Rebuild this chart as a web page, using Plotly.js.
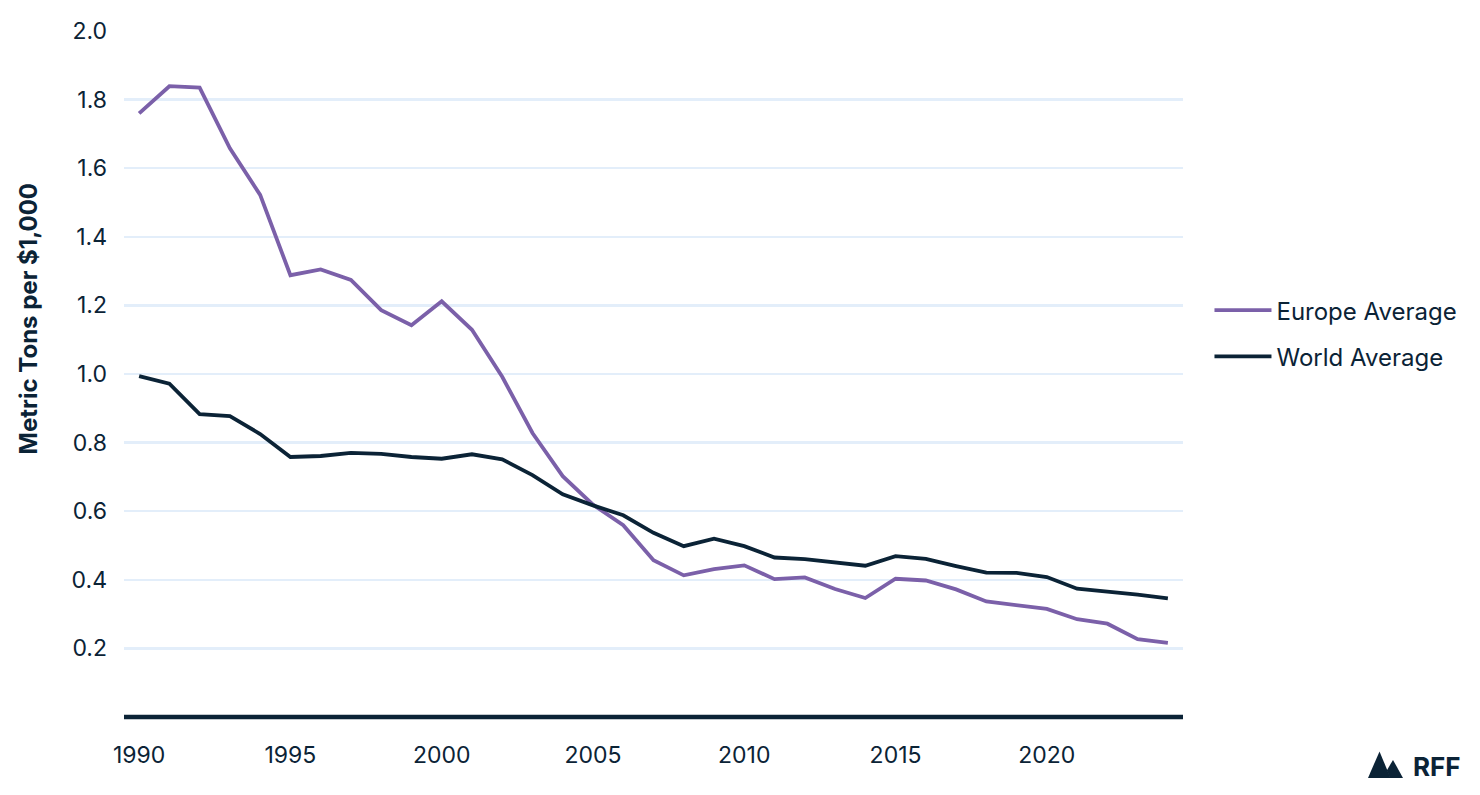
<!DOCTYPE html>
<html>
<head>
<meta charset="utf-8">
<script src="https://cdn.plot.ly/plotly-3.0.1.min.js"></script>
<style>
  html, body { margin: 0; padding: 0; background: #ffffff; }
  #chart { width: 1480px; height: 795px; }
</style>
</head>
<body>
<div id="chart"></div>
<script>
const years = [1990,1991,1992,1993,1994,1995,1996,1997,1998,1999,2000,2001,2002,2003,2004,2005,2006,2007,2008,2009,2010,2011,2012,2013,2014,2015,2016,2017,2018,2019,2020,2021,2022,2023,2024];
const europeAverage = [1.760,1.839,1.835,1.658,1.522,1.288,1.305,1.274,1.186,1.142,1.212,1.129,0.992,0.828,0.702,0.619,0.559,0.457,0.413,0.431,0.442,0.402,0.407,0.373,0.347,0.403,0.398,0.372,0.337,0.325,0.315,0.285,0.272,0.227,0.216];
const worldAverage = [0.994,0.972,0.883,0.877,0.825,0.758,0.761,0.770,0.767,0.758,0.753,0.766,0.751,0.705,0.649,0.617,0.588,0.537,0.498,0.520,0.498,0.465,0.460,0.451,0.441,0.469,0.461,0.440,0.421,0.420,0.408,0.374,0.366,0.357,0.346];
const seriesNames = ["Europe Average", "World Average"];
const xTickVals = [1990,1995,2000,2005,2010,2015,2020];
const xTickText = ["1990","1995","2000","2005","2010","2015","2020"];
const yTickVals = [0.2,0.4,0.6,0.8,1.0,1.2,1.4,1.6,1.8,2.0];
const yTickText = ["0.2","0.4","0.6","0.8","1.0","1.2","1.4","1.6","1.8","2.0"];
const yAxisTitle = "Metric Tons per $1,000";
const logoText = "RFF";

const NAVY = "#0b2336";
const PURPLE = "#7b60a9";
const GRID = "#e3eefa";
const FONT = "Inter, 'Noto Sans', sans-serif";

const traces = [
  {
    x: years, y: europeAverage, name: seriesNames[0], type: "scatter", mode: "lines",
    line: { color: PURPLE, width: 3.8 }, legendgroup: "eu", hoverinfo: "x+y"
  },
  {
    x: years, y: worldAverage, name: seriesNames[1], type: "scatter", mode: "lines",
    line: { color: NAVY, width: 3.8 }, legendgroup: "world", hoverinfo: "x+y"
  }
];

const PX = (px) => (px - 124) / 1059;
const PY = (py) => (716.6 - py) / 686;

const layout = {
  width: 1480, height: 795,
  margin: { l: 124, r: 297, t: 31, b: 78, pad: 0 },
  paper_bgcolor: "#ffffff", plot_bgcolor: "#ffffff",
  font: { family: FONT, color: NAVY, size: 23 },
  showlegend: true,
  legend: {
    x: 1.025, xanchor: "left", y: 0.559, yanchor: "middle",
    font: { family: FONT, size: 24, color: NAVY },
    traceorder: "grouped", tracegroupgap: 12, itemwidth: 57,
    bgcolor: "rgba(0,0,0,0)", borderwidth: 0
  },
  xaxis: {
    range: [1989.5, 2024.5], showgrid: false, zeroline: false, showline: false,
    tickmode: "array", tickvals: xTickVals, ticktext: xTickText,
    ticks: "", ticklabelstandoff: 22,
    tickfont: { family: FONT, size: 23, color: NAVY }, fixedrange: true
  },
  yaxis: {
    range: [0, 2], showgrid: true, gridcolor: GRID, gridwidth: 2.5,
    zeroline: false, showline: false,
    tickmode: "array", tickvals: yTickVals, ticktext: yTickText,
    ticks: "", ticklabelstandoff: 16,
    tickfont: { family: FONT, size: 23, color: NAVY }, fixedrange: true
  },
  shapes: [
    { type: "line", xref: "paper", yref: "paper", x0: PX(124), x1: PX(1183), y0: 0, y1: 0,
      line: { color: NAVY, width: 4.5 }, layer: "above" },
    { type: "path", xref: "paper", yref: "paper",
      path: "M " + PX(1368) + "," + PY(777.5) +
            " L " + PX(1379.5) + "," + PY(751) +
            " L " + PX(1390.5) + "," + PY(777.5) + " Z",
      fillcolor: NAVY, line: { width: 0 } },
    { type: "path", xref: "paper", yref: "paper",
      path: "M " + PX(1390) + "," + PY(777.5) +
            " L " + PX(1386.8) + "," + PY(770) +
            " L " + PX(1393) + "," + PY(759.5) +
            " L " + PX(1403) + "," + PY(777.5) + " Z",
      fillcolor: NAVY, line: { width: 0 } }
  ],
  annotations: [
    { text: "<b>" + yAxisTitle + "</b>", xref: "paper", yref: "paper",
      x: PX(28), y: PY(319), xanchor: "center", yanchor: "middle",
      textangle: -90, showarrow: false, font: { family: FONT, size: 24, color: NAVY } },
    { text: "<b>" + logoText + "</b>", xref: "paper", yref: "paper",
      x: PX(1411), y: PY(766), xanchor: "left", yanchor: "middle",
      showarrow: false, font: { family: FONT, size: 26, color: NAVY } }
  ]
};

Plotly.newPlot("chart", traces, layout, { displayModeBar: false, staticPlot: true });
</script>
</body>
</html>
